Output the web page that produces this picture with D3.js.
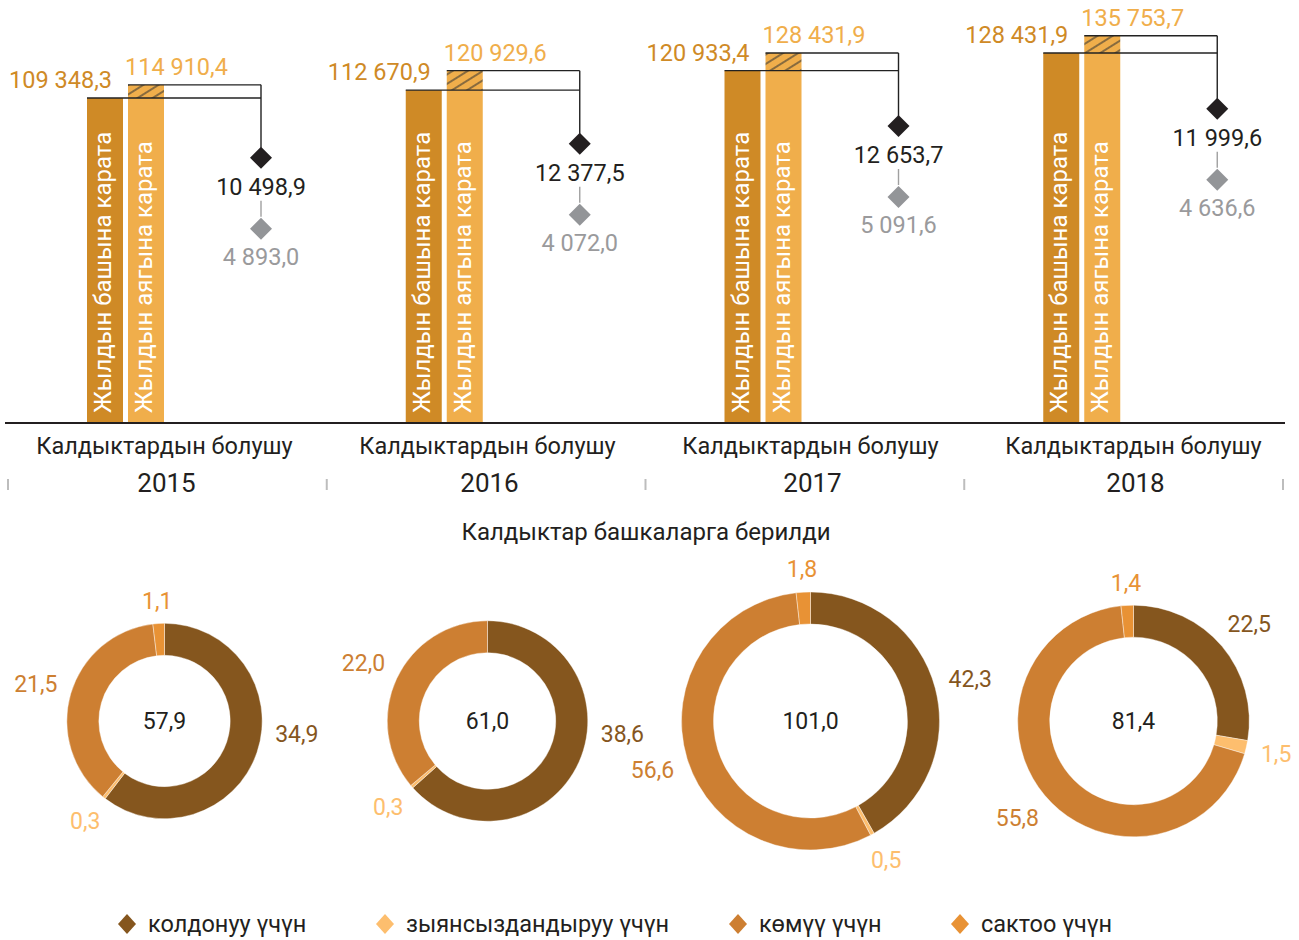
<!DOCTYPE html>
<html>
<head>
<meta charset="utf-8">
<script src="https://cdn.jsdelivr.net/npm/d3@7"></script>
<style>
  body { margin: 0; background: #fff; }
  svg { font-family: Roboto, "Noto Sans", sans-serif; display: block; }
</style>
</head>
<body>
<script>
"use strict";

// data
const years = ["2015", "2016", "2017", "2018"];
const beginValues = [109348.3, 112670.9, 120933.4, 128431.9];
const endValues = [114910.4, 120929.6, 128431.9, 135753.7];
const formedValues = [10498.9, 12377.5, 12653.7, 11999.6];
const otherValues = [4893.0, 4072.0, 5091.6, 4636.6];

const wasteTotals = [57.9, 61.0, 101.0, 81.4];
const useValues = [34.9, 38.6, 42.3, 22.5];
const neutralValues = [0.3, 0.3, 0.5, 1.5];
const burialValues = [21.5, 22.0, 56.6, 55.8];
const storageValues = [1.1, 0, 1.8, 1.4];

const legendLabels = ["колдонуу үчүн", "зыянсыздандыруу үчүн", "көмүү үчүн", "сактоо үчүн"];
const beginLabel = "Жылдын башына карата";
const endLabel = "Жылдын аягына карата";
const groupLabel = "Калдыктардын болушу";
const donutTitle = "Калдыктар башкаларга берилди";

const W = 1299, H = 940;
const cBegin = "#cf8a26", cEnd = "#f0ae4b";
const segColors = ["#85561e", "#fdbe6e", "#cd7f32", "#e89235"];

const locale = d3.formatLocale({decimal: ",", thousands: " ", grouping: [3], currency: ["", ""]});
const fmt = locale.format(",.1f");

const svg = d3.select("body").append("svg").attr("width", W).attr("height", H);

// hatch for the growth part
const defs = svg.append("defs");
const pat = defs.append("pattern")
  .attr("id", "hatch")
  .attr("patternUnits", "userSpaceOnUse")
  .attr("width", 8).attr("height", 8)
  .attr("patternTransform", "rotate(-32)");
pat.append("rect").attr("width", 8).attr("height", 8).attr("fill", cEnd);
pat.append("line").attr("x1", 0).attr("x2", 8).attr("y1", 4).attr("y2", 4)
  .attr("stroke", "#333").attr("stroke-width", 1.1);

// scales
const xBand = d3.scaleBand().domain(years).range([8, 1283]);
const xLab = d3.scaleBand().domain(years).range([3, 1295]);
const y = d3.scaleLinear().domain([0, 140000]).range([355.8, 25.7]);
const baseY = 423;
const barW = 36, barGap = 5, barOff = 79, markOff = 253;

const rScale = d3.scaleSqrt().domain([0, d3.max(wasteTotals)]).range([0, 129]);
const ring = 32;
const donutY = 721;

// bars
years.forEach((yr, i) => {
  const x0 = xBand(yr) + barOff;
  const x1 = x0 + barW + barGap;
  const mx = xBand(yr) + markOff;
  const yb = y(beginValues[i]);
  const ye = y(endValues[i]);
  const g = svg.append("g");

  g.append("rect").attr("x", x0).attr("y", yb).attr("width", barW).attr("height", baseY - yb).attr("fill", cBegin);
  g.append("rect").attr("x", x1).attr("y", yb).attr("width", barW).attr("height", baseY - yb).attr("fill", cEnd);
  g.append("rect").attr("x", x1).attr("y", ye).attr("width", barW).attr("height", yb - ye).attr("fill", "url(#hatch)");

  // connector lines
  const dY = ye + 73;
  g.append("line").attr("x1", x0).attr("x2", mx).attr("y1", yb).attr("y2", yb)
    .attr("stroke", "#222").attr("stroke-width", 1.4);
  g.append("line").attr("x1", x1).attr("x2", mx).attr("y1", ye).attr("y2", ye)
    .attr("stroke", "#222").attr("stroke-width", 1.4);
  g.append("line").attr("x1", mx).attr("x2", mx).attr("y1", ye).attr("y2", dY - 10)
    .attr("stroke", "#222").attr("stroke-width", 1.4);

  // value labels
  g.append("text").attr("x", x0 + barW - 11).attr("y", yb - 10)
    .attr("text-anchor", "end").attr("font-size", 23.5).attr("fill", cBegin)
    .text(fmt(beginValues[i]));
  g.append("text").attr("x", x1 - 3).attr("y", ye - 10)
    .attr("text-anchor", "start").attr("font-size", 23.5).attr("fill", cEnd)
    .text(fmt(endValues[i]));

  // rotated texts
  g.append("text").attr("transform", `translate(${x0 + barW / 2 + 6},${baseY - 10}) rotate(-90)`)
    .attr("font-size", 24).attr("fill", "#fff").text(beginLabel);
  g.append("text").attr("transform", `translate(${x1 + barW / 2 + 6},${baseY - 10}) rotate(-90)`)
    .attr("font-size", 24).attr("fill", "#fff").text(endLabel);

  // diamonds
  const gY = dY + 71;
  g.append("path").attr("d", diamond(mx, dY, 11, 11)).attr("fill", "#231f20");
  g.append("text").attr("x", mx).attr("y", dY + 37).attr("text-anchor", "middle")
    .attr("font-size", 23.5).attr("fill", "#231f20").text(fmt(formedValues[i]));
  g.append("line").attr("x1", mx).attr("x2", mx).attr("y1", dY + 43).attr("y2", gY - 12)
    .attr("stroke", "#a0a0a0").attr("stroke-width", 1.4);
  g.append("path").attr("d", diamond(mx, gY, 11, 11)).attr("fill", "#939598");
  g.append("text").attr("x", mx).attr("y", gY + 36).attr("text-anchor", "middle")
    .attr("font-size", 23.5).attr("fill", "#9a9a9c").text(fmt(otherValues[i]));

  // category labels
  g.append("text").attr("x", xLab(yr) + xLab.bandwidth() / 2).attr("y", 454)
    .attr("text-anchor", "middle").attr("font-size", 23.5).attr("fill", "#231f20").text(groupLabel);
  g.append("text").attr("x", xLab(yr) + xLab.bandwidth() / 2 + 2).attr("y", 492)
    .attr("text-anchor", "middle").attr("font-size", 26).attr("fill", "#231f20").text(yr);
});

// base axis
svg.append("line").attr("x1", 5).attr("x2", 1285).attr("y1", baseY).attr("y2", baseY)
  .attr("stroke", "#231f20").attr("stroke-width", 2.2);

// tick marks between years
const tickXs = years.map(d => xBand(d)).concat([xBand.range()[1]]);
svg.selectAll(".tick").data(tickXs).enter().append("line")
  .attr("x1", d => d).attr("x2", d => d).attr("y1", 479).attr("y2", 490)
  .attr("stroke", "#bdbdbd").attr("stroke-width", 2);

// donut title
svg.append("text").attr("x", 646).attr("y", 540).attr("text-anchor", "middle")
  .attr("font-size", 24).attr("fill", "#231f20").text(donutTitle);

// donuts
const pie = d3.pie().sort(null).value(d => d.v);
years.forEach((yr, i) => {
  const cx = xLab(yr) + xLab.bandwidth() / 2;
  const rOut = rScale(wasteTotals[i]);
  const rIn = rOut - ring;
  const parts = [useValues[i], neutralValues[i], burialValues[i], storageValues[i]]
    .map((v, k) => ({v: v, k: k}));
  const arcs = pie(parts).filter(a => a.data.v > 0);
  const arc = d3.arc().innerRadius(rIn).outerRadius(rOut);
  const g = svg.append("g").attr("transform", `translate(${cx},${donutY})`);

  g.selectAll("path").data(arcs).enter().append("path")
    .attr("d", arc).attr("fill", a => segColors[a.data.k])
    .attr("stroke", "#fff").attr("stroke-width", 0.4);

  // labels sit just outside the ring; the first one is kept on the right side
  const labelPos = a => {
    let ang = (a.startAngle + a.endAngle) / 2;
    if (a.data.k === 0) ang = Math.min(ang, Math.PI * 0.53);
    const s = Math.sin(ang), c = -Math.cos(ang);
    const txt = fmt(a.data.v);
    const d = rOut + 12 + Math.abs(s) * txt.length * 5.6 + Math.abs(c) * 10;
    return [s * d, c * d];
  };

  g.selectAll(".lbl").data(arcs).enter().append("text")
    .attr("class", "lbl")
    .attr("x", a => labelPos(a)[0])
    .attr("y", a => labelPos(a)[1])
    .attr("dy", "0.35em").attr("text-anchor", "middle")
    .attr("font-size", 23).attr("fill", a => segColors[a.data.k])
    .text(a => fmt(a.data.v));

  g.append("text").attr("dy", "0.35em").attr("text-anchor", "middle")
    .attr("font-size", 23).attr("fill", "#231f20").text(fmt(wasteTotals[i]));
});

// legend
const legX = [127, 385, 738, 960];
legendLabels.forEach((lab, k) => {
  svg.append("path").attr("d", diamond(legX[k], 924, 9, 10)).attr("fill", segColors[k]);
  svg.append("text").attr("x", legX[k] + 21).attr("y", 932)
    .attr("font-size", 23.5).attr("fill", "#231f20").text(lab);
});

function diamond(cx, cy, hw, hh) {
  return `M${cx},${cy - hh}L${cx + hw},${cy}L${cx},${cy + hh}L${cx - hw},${cy}Z`;
}
</script>
</body>
</html>
